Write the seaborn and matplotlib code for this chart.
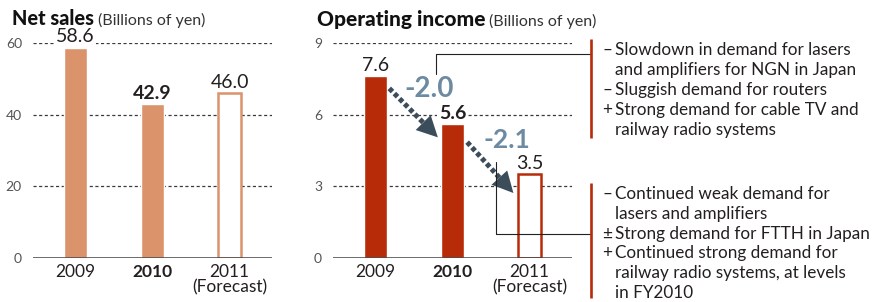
import matplotlib
matplotlib.use('Agg')
import matplotlib.pyplot as plt
import seaborn as sns
import pandas as pd

# datos
years = ["2009", "2010", "2011"]
year_labels = ["2009", "2010", "2011\n(Forecast)"]
net_sales = [58.6, 42.9, 46.0]
op_income = [7.6, 5.6, 3.5]
drops = ["-2.0", "-2.1"]

notes_top = [("–", "Slowdown in demand for lasers"),
             ("", "and amplifiers for NGN in Japan"),
             ("–", "Sluggish demand for routers"),
             ("+", "Strong demand for cable TV and"),
             ("", "railway radio systems")]
notes_bottom = [("–", "Continued weak demand for"),
                ("", "lasers and amplifiers"),
                ("±", "Strong demand for FTTH in Japan"),
                ("+", "Continued strong demand for"),
                ("", "railway radio systems, at levels"),
                ("", "in FY2010")]

SALES_COLOR = '#DB936C'
INCOME_COLOR = '#B82B08'
ARROW_COLOR = '#3B4C5B'
DROP_COLOR = '#6C8AA1'
TEXT_COLOR = '#231F20'

sns.set_style("white")
plt.rcParams['font.family'] = ['Lato', 'DejaVu Sans']

W, H = 882, 302
fig = plt.figure(figsize=(W / 100, H / 100), dpi=100)


def px_axes(x0, y0, x1, y1, **kw):
    return fig.add_axes([x0 / W, 1 - y1 / H, (x1 - x0) / W, (y1 - y0) / H], **kw)


def draw_panel(ax, values, color, ticks):
    df = pd.DataFrame({"year": years, "value": values})
    sns.barplot(data=df, x="year", y="value", color=color, saturation=1,
                width=0.3, ax=ax, zorder=3)
    hollow = ax.patches[2]
    hollow.set_facecolor('white')
    hollow.set_edgecolor(color)
    hollow.set_linewidth(1.8)

    ax.set_xlim(-0.55, 2.55)
    ax.set_ylim(0, ticks[-1])
    for v in ticks[1:]:
        ax.axhline(v, color='#3A3A3A', lw=0.9, ls=(0, (2.5, 2)), zorder=1)
    ax.axhline(0, color='#444444', lw=1.1, zorder=4)
    sns.despine(ax=ax, left=True, bottom=True)

    ax.set_yticks(ticks)
    ax.tick_params(axis='y', length=0, pad=8, labelcolor='#555555', labelsize=10)
    ax.set_xticks([0, 1, 2])
    ax.set_xticklabels(year_labels, fontsize=12.5, color=TEXT_COLOR, linespacing=1.0)
    ax.tick_params(axis='x', length=0, pad=4)
    ax.get_xticklabels()[1].set_fontweight('bold')
    ax.set_xlabel('')
    ax.set_ylabel('')

    for i, v in enumerate(values):
        ax.annotate(f"{v:.1f}", (i, v), xytext=(0, 8), textcoords='offset points',
                    ha='center', va='center', fontsize=14, color=TEXT_COLOR,
                    fontweight='bold' if i == 1 else 'normal',
                    bbox=dict(fc='white', ec='none', pad=1), zorder=5)


def dotted_arrow(ax, start, end, head_frac=0.22):
    mid = (start[0] + (end[0] - start[0]) * (1 - head_frac),
           start[1] + (end[1] - start[1]) * (1 - head_frac))
    ax.plot([start[0], mid[0]], [start[1], mid[1]], color=ARROW_COLOR, lw=3.6,
            ls=(0, (0.9, 0.55)), dash_capstyle='butt', zorder=6)
    ax.annotate('', xy=end, xytext=mid,
                arrowprops=dict(arrowstyle='-|>,head_length=0.75,head_width=0.38',
                                mutation_scale=20, lw=0, color=ARROW_COLOR,
                                shrinkA=0, shrinkB=0), zorder=6)


ax1 = px_axes(33, 43, 272, 258)
ax2 = px_axes(333, 43, 572, 258)

draw_panel(ax1, net_sales, SALES_COLOR, [0, 20, 40, 60])
draw_panel(ax2, op_income, INCOME_COLOR, [0, 3, 6, 9])

# flechas de caida
dotted_arrow(ax2, (0.18, 7.1), (0.81, 5.05))
dotted_arrow(ax2, (1.19, 4.85), (1.79, 2.72))
ax2.text(0.70, 7.07, drops[0], ha='center', va='center', fontsize=20,
         fontweight='bold', color=DROP_COLOR, zorder=7)
ax2.text(1.70, 4.95, drops[1], ha='center', va='center', fontsize=19,
         fontweight='bold', color=DROP_COLOR, zorder=7)

# capa en pixeles para titulos y notas
ov = px_axes(0, 0, W, H)
ov.set_xlim(0, W)
ov.set_ylim(H, 0)
ov.axis('off')
ov.patch.set_alpha(0)

ov.text(12, 25, "Net sales", fontsize=14.3, fontweight='black', color='#111111', va='baseline')
ov.text(98, 25, "(Billions of yen)", fontsize=11.5, color='#333333', va='baseline')
ov.text(317, 26, "Operating income", fontsize=15, fontweight='black', color='#111111', va='baseline')
ov.text(489, 26, "(Billions of yen)", fontsize=11.5, color='#333333', va='baseline')

# corchetes
ov.plot([435.5, 435.5, 591], [74, 54, 54], color='#222222', lw=0.8)
ov.plot([496, 496, 591], [162, 234, 234], color='#222222', lw=0.8)
ov.plot([591, 591], [39, 138], color=INCOME_COLOR, lw=1.9, solid_capstyle='butt')
ov.plot([591, 591], [183, 298], color=INCOME_COLOR, lw=1.9, solid_capstyle='butt')

for k, (sym, txt) in enumerate(notes_top):
    y = 55 + k * 20
    ov.text(607, y, sym, ha='center', va='baseline', fontsize=12.3, color=TEXT_COLOR)
    ov.text(615, y, txt, ha='left', va='baseline', fontsize=12.3, color=TEXT_COLOR)

for k, (sym, txt) in enumerate(notes_bottom):
    y = 199 + k * 19.8
    ov.text(607, y, sym, ha='center', va='baseline', fontsize=12.3, color=TEXT_COLOR)
    ov.text(615, y, txt, ha='left', va='baseline', fontsize=12.3, color=TEXT_COLOR)

plt.savefig('out.png', dpi=100)
plt.close()
